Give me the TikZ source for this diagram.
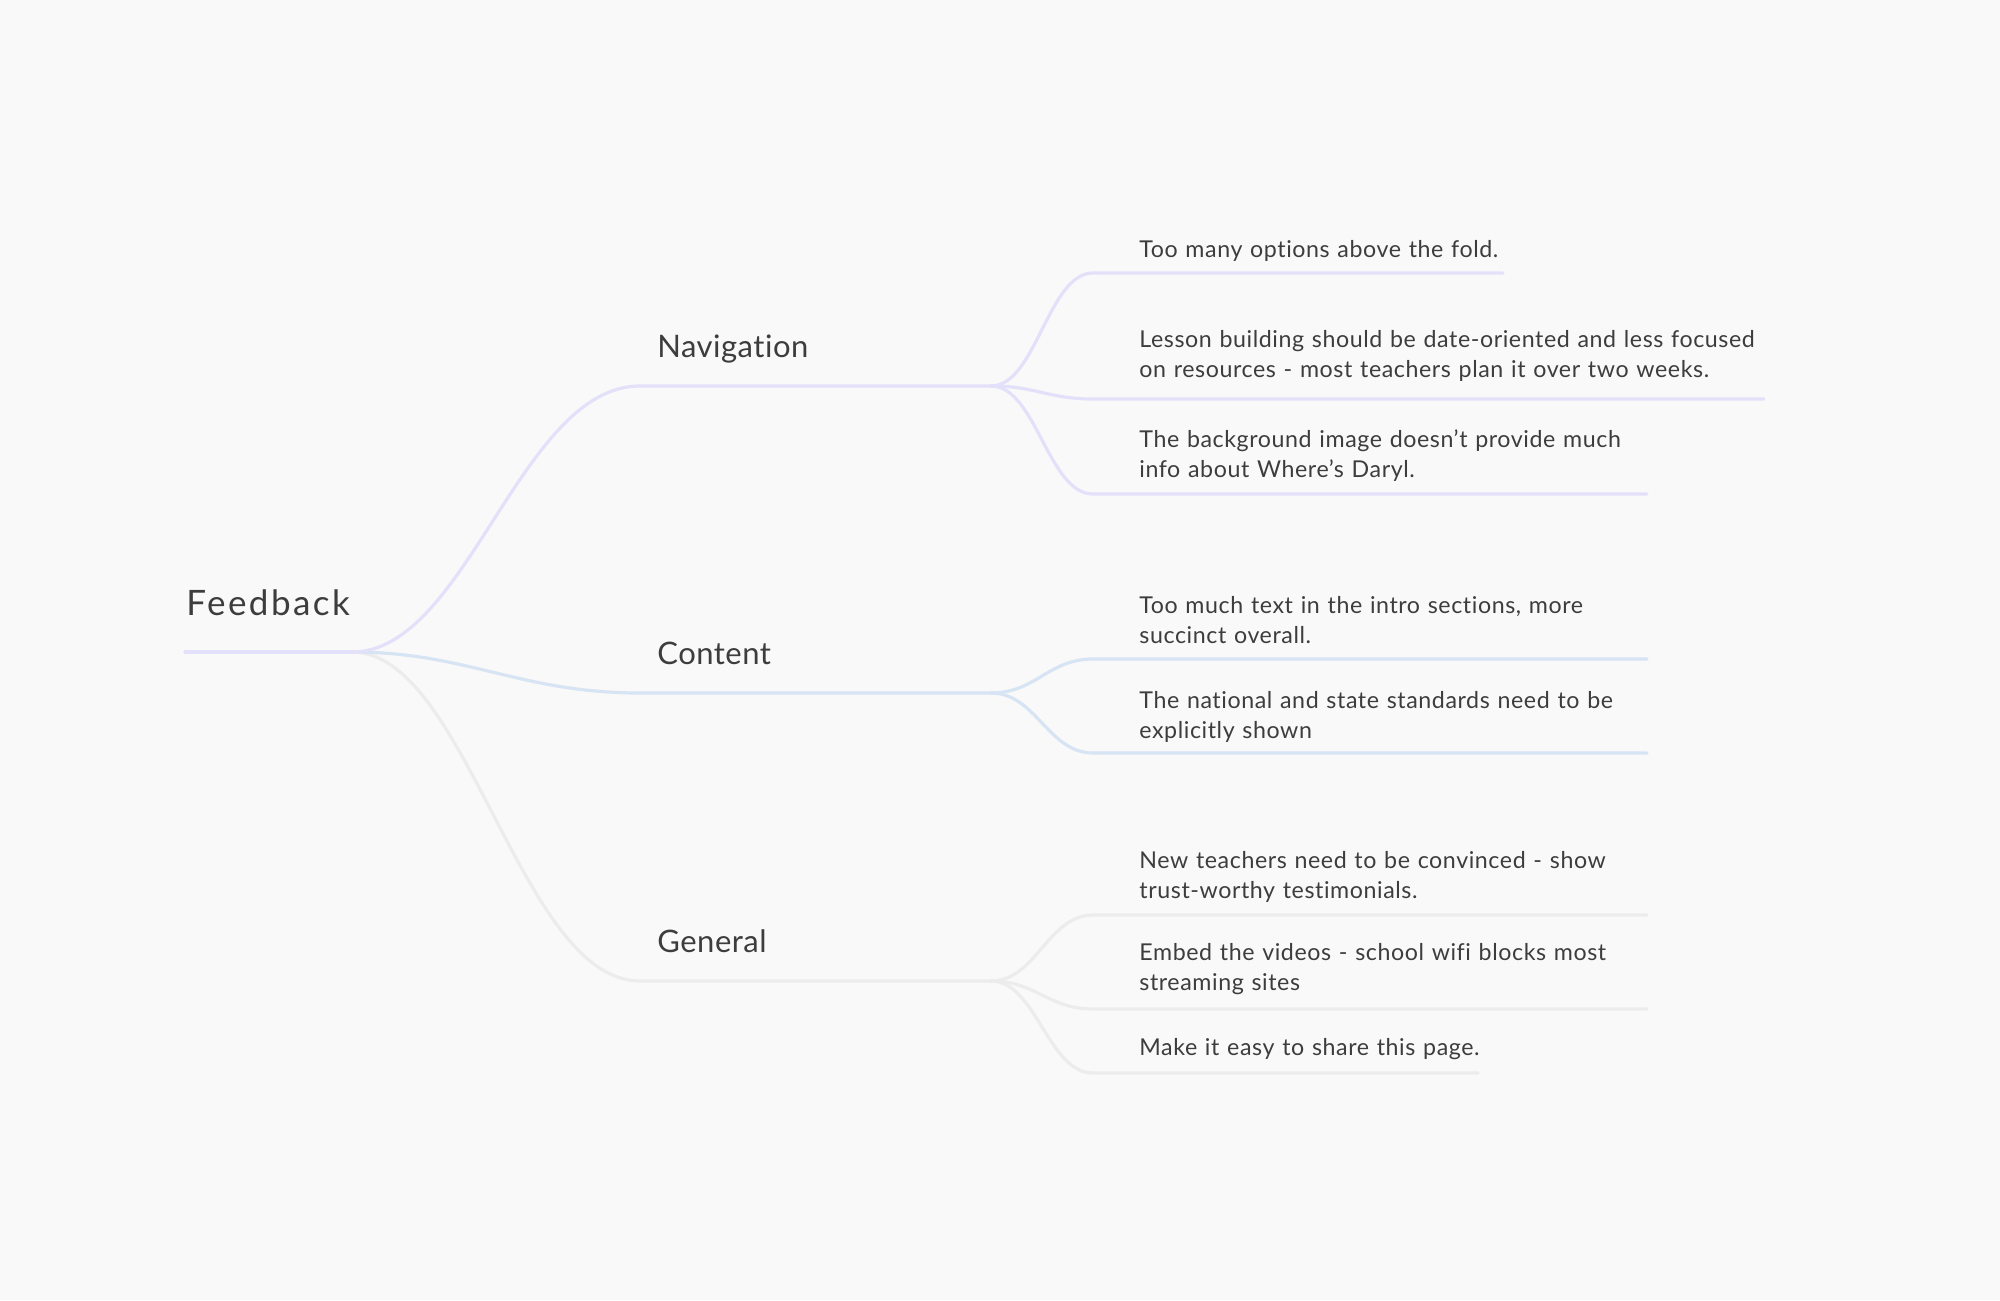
\documentclass[tikz,border=0pt]{standalone}
\usepackage{fontspec}
\setmainfont{Lato}[Ligatures=NoCommon]
\newfontfamily\rootfont{Lato}[Ligatures=NoCommon,LetterSpace=7]
\newfontfamily\brfont{Lato}[Ligatures=NoCommon,LetterSpace=1.6]
\newfontfamily\leaffont{Lato}[Ligatures=NoCommon,LetterSpace=2.5]
\definecolor{bgc}{HTML}{F9F9F9}
\definecolor{navc}{HTML}{E3E0F9}
\definecolor{conc}{HTML}{D7E4F3}
\definecolor{genc}{HTML}{ECECEC}
\definecolor{txt}{HTML}{3D3D3D}
\begin{document}
\begin{tikzpicture}[x=0.5pt,y=-0.5pt,
  rootlbl/.style={anchor=base west,inner sep=0pt,text=txt,font=\rootfont\fontsize{17.5}{21}\selectfont},
  branchlbl/.style={anchor=base west,inner sep=0pt,text=txt,font=\brfont\fontsize{15.5}{19}\selectfont},
  leaflbl/.style={anchor=base west,inner sep=0pt,text=txt,text width=360pt,align=left,font=\leaffont\fontsize{11.6}{15}\selectfont},
  conn/.style={line width=1.6pt,line cap=round}]
\fill[bgc] (0,0) rectangle (2000,1300);
\useasboundingbox (0,0) rectangle (2000,1300);

% coordinates
\coordinate (rs) at (185,652);
\coordinate (rj) at (352,652);
\coordinate (nb) at (640,386);
\coordinate (nj) at (991,386);
\coordinate (cb) at (640,693);
\coordinate (cj) at (991,693);
\coordinate (gb) at (640,981);
\coordinate (gj) at (991,981);

\coordinate (n1a) at (1093,273); \coordinate (n1b) at (1503,273);
\coordinate (n2a) at (1093,399); \coordinate (n2b) at (1764,399);
\coordinate (n3a) at (1093,494); \coordinate (n3b) at (1647,494);
\coordinate (c1a) at (1093,659); \coordinate (c1b) at (1647,659);
\coordinate (c2a) at (1093,753); \coordinate (c2b) at (1647,753);
\coordinate (g1a) at (1093,915); \coordinate (g1b) at (1647,915);
\coordinate (g2a) at (1093,1009); \coordinate (g2b) at (1647,1009);
\coordinate (g3a) at (1093,1073); \coordinate (g3b) at (1478,1073);

% general (drawn first, beneath)
\draw[conn,genc] (rj) .. controls ++(115,0) and ++(-120,0) .. (gb) -- (gj);
\draw[conn,genc] (gj) .. controls ++(45,0) and ++(-45,0) .. (g1a) -- (g1b);
\draw[conn,genc] (gj) .. controls ++(45,0) and ++(-45,0) .. (g2a) -- (g2b);
\draw[conn,genc] (gj) .. controls ++(45,0) and ++(-45,0) .. (g3a) -- (g3b);

% content
\draw[conn,conc] (rj) .. controls ++(115,0) and ++(-120,0) .. (cb) -- (cj);
\draw[conn,conc] (cj) .. controls ++(45,0) and ++(-45,0) .. (c1a) -- (c1b);
\draw[conn,conc] (cj) .. controls ++(45,0) and ++(-45,0) .. (c2a) -- (c2b);

% navigation
\draw[conn,navc] (rj) .. controls ++(115,0) and ++(-120,0) .. (nb) -- (nj);
\draw[conn,navc] (nj) .. controls ++(45,0) and ++(-45,0) .. (n1a) -- (n1b);
\draw[conn,navc] (nj) .. controls ++(45,0) and ++(-45,0) .. (n2a) -- (n2b);
\draw[conn,navc] (nj) .. controls ++(45,0) and ++(-45,0) .. (n3a) -- (n3b);

% root line
\draw[conn,navc] (rs) -- (rj);

% labels
\node[rootlbl] (feedback) at (186,615) {Feedback};
\node[branchlbl] (nav) at (657,357) {Navigation};
\node[branchlbl] (con) at (657,664) {Content};
\node[branchlbl] (gen) at (657,952) {General};

\node[leaflbl] (l1) at (1139,257) {Too many options above the fold.};
\node[leaflbl] (l2) at (1139,347) {Lesson building should be date-oriented and less focused\\on resources - most teachers plan it over two weeks.};
\node[leaflbl] (l3) at (1139,447) {The background image doesn’t provide much\\info about Where’s Daryl.};
\node[leaflbl] (l4) at (1139,613) {Too much text in the intro sections, more\\succinct overall.};
\node[leaflbl] (l5) at (1139,708) {The national and state standards need to be\\explicitly shown};
\node[leaflbl] (l6) at (1139,868) {New teachers need to be convinced - show\\trust-worthy testimonials.};
\node[leaflbl] (l7) at (1139,960) {Embed the videos - school wifi blocks most\\streaming sites};
\node[leaflbl] (l8) at (1139,1055) {Make it easy to share this page.};
\end{tikzpicture}
\end{document}
